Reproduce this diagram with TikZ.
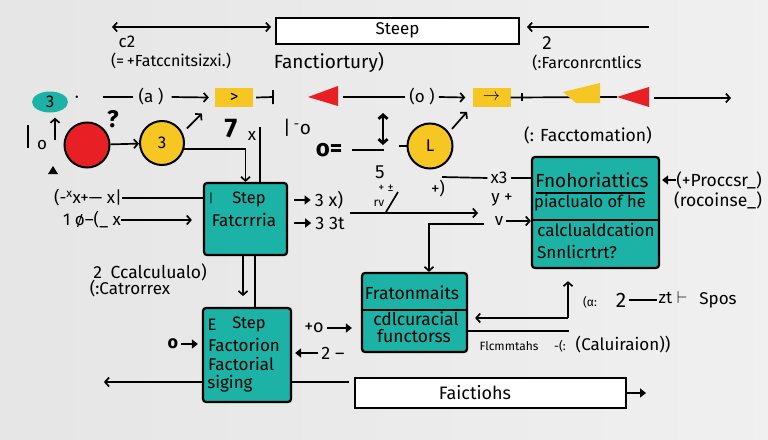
\documentclass[tikz,border=0pt]{standalone}
\usepackage{fontspec}
\setmainfont{Fira Sans}
\usetikzlibrary{positioning}
\usetikzlibrary{shapes.geometric}
\usetikzlibrary{arrows.meta}

\definecolor{tealfill}{RGB}{28,178,166}
\definecolor{redfill}{RGB}{232,32,38}
\definecolor{yellowfill}{RGB}{246,198,34}

\begin{document}
\begin{tikzpicture}[x=1pt,y=-1pt,
    tbox/.style={draw,line width=2.2pt,fill=tealfill,rounded corners=3pt,inner sep=0pt},
    wbox/.style={draw,line width=2pt,fill=white,inner sep=0pt},
    lab/.style={inner sep=0pt,font=\fontsize{17}{19}\selectfont},
    blab/.style={inner sep=0pt,font=\fontsize{16.5}{18}\selectfont},
    slab/.style={inner sep=0pt,font=\fontsize{12}{14}\selectfont},
    biglab/.style={inner sep=0pt,font=\bfseries\fontsize{24}{26}\selectfont},
    wire/.style={line width=1.7pt},
    arr/.style={-{Straight Barb[length=4pt,width=9pt]},line width=1.7pt},
    fat/.style={-{Triangle[length=6pt,width=9pt]},line width=2.8pt}]
    \useasboundingbox (0,0) rectangle (768,439);
    \shade[left color=gray!20,middle color=gray!3,right color=gray!12] (0,0) rectangle (768,439);

    % top strip
    \node[wbox,lab,minimum width=243,minimum height=26] (steep) at (397.5,30.5) {Steep};
    \coordinate (topl) at (112,27);
    \coordinate (topr) at (649,27);
    \draw[wire,{Straight Barb[length=4pt,width=9pt]}-{Straight Barb[length=4pt,width=9pt]},shorten >=4pt] (topl) -- (topl -| steep.west);
    \draw[arr,shorten >=7pt] (topr) -- (topr -| steep.east);
    \node[lab] (ctwo) at (127,42) {c2};
    \node[lab,font=\fontsize{16}{18}\selectfont] (fatcc) at (171,61) {(=\,+Fatccnitsizxi.)};
    \node[lab,font=\fontsize{19}{21}\selectfont] (fanct) at (329,62) {Fanctiortury)};
    \node[lab,font=\fontsize{19}{21}\selectfont] (ntwo) at (547,43) {2};
    \node[lab,font=\fontsize{16}{18}\selectfont] (farcon) at (587,63) {(:Farconrcntlics};

    % row of tokens
    \node[ellipse,fill=tealfill,minimum width=36,minimum height=21,inner sep=0pt,lab] (ell) at (50,102) {3};
    \node[lab] (mdot) at (77,99) {·};
    \coordinate (dasha) at (103,97);
    \node[lab] (pa) at (151,97) {(a )};
    \node[fill=yellowfill,minimum width=38,minimum height=19,inner sep=0pt,lab] (ya) at (234,97.5) {>};
    \draw[wire] (dasha) -- ([xshift=-5]pa.west);
    \draw[arr] ([xshift=8]pa.east) -- ([xshift=-6]ya.west);
    \coordinate (ticka) at (273,97);
    \draw[wire] ([xshift=3]ya.east) -- (ticka) ++(0,-7) -- ++(0,14);
    \fill[redfill] (308,97) -- (338,86) -- (338,106) -- cycle;
    \coordinate (dashb) at (343,97);
    \node[lab] (po) at (422,97) {(o )};
    \node[fill=yellowfill,minimum width=38,minimum height=19,inner sep=0pt,lab] (yb) at (491.5,97.5) {$\rightarrow$};
    \draw[wire] (dashb) -- ([xshift=-4]po.west);
    \draw[arr] ([xshift=4]po.east) -- ([xshift=-7]yb.west);
    \draw[wire] (yb.east) -- (617,97);
    \draw[wire] (522,93) -- (522,101);
    \fill[yellowfill] (563,92) -- (600,83) -- (600,103) -- (576,103) -- cycle;
    \fill[redfill] (617,97) -- (649,87) -- (649,107) -- cycle;
    \coordinate (enda) at (654,98);
    \coordinate (endb) at (731,98);
    \draw[arr] (enda) -- (endb);

    % circles
    \node[circle,draw,line width=2pt,fill=redfill,minimum size=45,inner sep=0pt] (redc) at (87,145) {};
    \node[circle,draw,line width=2pt,fill=yellowfill,minimum size=44,inner sep=0pt,lab] (yelc) at (162,143) {3};
    \node[circle,draw,line width=2pt,fill=yellowfill,minimum size=45,inner sep=0pt,lab] (yell) at (430,146) {L};
    \draw[arr] (redc) -- (yelc);
    \node[biglab] (qmark) at (113,119) {?};
    \draw[wire] (28,125) -- (28,148);
    \node[lab] (lo) at (42,145) {o};
    \coordinate (upo) at (55,140);
    \draw[arr,shorten >=5pt] (upo) -- (upo |- ell.south);
    \fill (48,174) -- (53,166) -- (58,174) -- cycle;
    \draw[arr] (yelc.30) ++(5,-3) -- ++(15,-15);
    \node[biglab,font=\bfseries\fontsize{27}{29}\selectfont] (seven) at (231,129) {7};
    \node[lab] (sx) at (252,136) {x};
    \node[lab,font=\fontsize{19}{21}\selectfont] (baro) at (297,128) {|\,\textsuperscript{-}o};
    \node[biglab] (oeq) at (329,150) {o=};
    \draw[wire] ([xshift=10]oeq.east) -- ++(32,0);
    \draw[wire] ([xshift=-8]yell.west) -- (yell.west);
    \draw[{Straight Barb[length=4pt,width=9pt]}-{Straight Barb[length=4pt,width=9pt]},line width=2.8pt] (383,145) -- (383,113);
    \draw[arr] (yell.40) ++(4,-2) -- ++(15,-17);
    \node[lab,font=\fontsize{17.5}{19}\selectfont] (facct) at (588,135) {(: Facctomation)};

    % first step box
    \node[tbox,minimum width=83,minimum height=72] (stepa) at (245.5,219) {};
    \node[slab] (bara) at (211,198) {|};
    \node[blab] (stepaa) at (249,199) {Step};
    \node[blab,font=\fontsize{17}{19}\selectfont] (stepab) at (244,220) {Fatcrrria};
    \draw[arr] (yelc.-15) -| (stepa.north);
    \draw[wire] ([xshift=14.5]stepa.north) -- ++(0,-55);
    \node[lab] (inx) at (88,198) {(-\textsuperscript{x}x+— x|};
    \node[lab] (iny) at (92,220) {1 ø–(\_ x};
    \draw[wire] (inx.east) -- (inx.east -| stepa.west);
    \draw[arr,shorten >=11pt] (iny.east) -- (iny.east -| stepa.west);
    \node[lab,font=\fontsize{18}{20}\selectfont] (outa) at (329,200) {3 x)};
    \node[lab,font=\fontsize{18}{20}\selectfont] (outb) at (330,223) {3 3t};
    \draw[fat,shorten <=6pt,shorten >=4pt] (outa.west -| stepa.east) -- (outa.west);
    \draw[fat,shorten <=6pt,shorten >=4pt] (outb.west -| stepa.east) -- (outb.west);

    % middle scribbles
    \coordinate (lnga) at (350,213);
    \coordinate (lngb) at (478,213);
    \draw[arr] (lnga) -- (lngb);
    \node[lab,font=\fontsize{19}{21}\selectfont] (five) at (380,172) {5};
    \node[slab] (tpm) at (386,188) {+ ±};
    \node[slab] (rv) at (379,203) {rv};
    \draw[wire] (386,212) -- (398,192);
    \node[lab] (pparen) at (438,189) {+)};
    \coordinate (xa) at (442,177);
    \node[lab] (xthree) at (499,178) {x3};
    \node[lab] (yplus) at (502,200) {y +};
    \node[lab] (vv) at (499,221) {v};

    % right box
    \node[tbox,minimum width=127,minimum height=111] (fnoh) at (595.5,212.5) {};
    \node[blab,font=\fontsize{19}{21}\selectfont] (fna) at (592,180) {Fnohoriattics};
    \draw[wire] ([xshift=5,yshift=19.5]fnoh.west) -- ([xshift=-15,yshift=19.5]fnoh.east);
    \node[blab] (fnb) at (590,203) {piaclualo of he};
    \draw[wire] ([yshift=-7.5]fnoh.west) -- ([yshift=-7.5]fnoh.east);
    \node[blab,font=\fontsize{17}{19}\selectfont] (fnc) at (596,230) {calclualdcation};
    \node[blab,font=\fontsize{17}{19}\selectfont] (fnd) at (577,252) {Snnlicrtrt?};
    \draw[wire] (xa) -- ([xshift=-3]xthree.west);
    \draw[wire] ([xshift=3]xthree.east) -- (xthree.east -| fnoh.west);
    \draw[arr,shorten <=3pt] (vv.east) -- (vv.east -| fnoh.west);
    \node[lab,font=\fontsize{17.5}{19}\selectfont] (procs) at (719,180) {(+Proccsr\_)};
    \node[lab,font=\fontsize{17.5}{19}\selectfont] (rocoin) at (718,200) {(rocoinse\_)};
    \draw[fat,shorten >=2pt] (procs.west) -- (procs.west -| fnoh.east);

    % middle box
    \node[tbox,minimum width=105,minimum height=79] (frat) at (414.5,312.5) {};
    \node[blab,font=\fontsize{17.5}{19}\selectfont] (fra) at (412,293) {Fratonmaits};
    \draw[wire] ([yshift=2.5]frat.west) -- ([yshift=2.5]frat.east);
    \node[blab,font=\fontsize{17.5}{19}\selectfont] (frb) at (416,319) {cdlcuracial};
    \node[blab,font=\fontsize{17.5}{19}\selectfont] (frc) at (414,336) {functorss};
    \coordinate (brk) at (484,224);
    \draw[arr] (brk) -| ([xshift=14.5]frat.north);
    \coordinate (frjoin) at (568,318);
    \draw[arr,shorten >=7pt] (frjoin) -- (frjoin -| frat.east);
    \draw[arr,shorten >=12pt] (frjoin) -- (frjoin |- fnoh.south);
    \draw[wire] ([yshift=-18.5]frat.east) -- ++(101,0);
    \node[slab] (alp) at (590,302) {(α:};
    \node[lab,font=\fontsize{21}{23}\selectfont] (ntwob) at (621,300) {2};
    \draw[wire] (ntwob.east) ++(3,0) -- ++(28,0);
    \node[lab] (zt) at (673,298) {zt $\vdash$};
    \node[lab] (spos) at (718,300) {Spos};
    \node[slab] (flcm) at (509,346) {Flcmmtahs};
    \node[slab] (dashc) at (560,346) {-(:};
    \node[lab,font=\fontsize{17}{19}\selectfont] (calu) at (623,345) {(Caluiraion))};

    % second step box
    \node[tbox,minimum width=88,minimum height=94] (stepb) at (247,355) {};
    \node[blab] (stepbe) at (212,325) {E};
    \node[blab] (stepba) at (249,324) {Step};
    \node[blab,font=\fontsize{17}{19}\selectfont] (stepbb) at (244,345) {Factorion};
    \node[blab,font=\fontsize{17}{19}\selectfont] (stepbc) at (241,364) {Factorial};
    \node[blab,font=\fontsize{17}{19}\selectfont] (stepbd) at (230,384) {siging};
    \draw[arr] ([xshift=-2.5]stepa.south) -- ++(0,40);
    \draw[wire] ([xshift=9.5]stepa.south) -- ([xshift=8]stepb.north);
    \node[lab,font=\fontsize{17.5}{19}\selectfont] (ccal) at (150,272) {2\enspace Ccalculualo)};
    \node[lab] (catr) at (130,289) {(:Catrorrex};
    \node[lab,font=\bfseries\fontsize{18}{20}\selectfont] (zo) at (173,344) {o};
    \draw[fat,shorten <=3pt,shorten >=4pt] (zo.east) -- (zo.east -| stepb.west);
    \node[lab,font=\fontsize{18}{20}\selectfont] (po2) at (314,328) {+o};
    \draw[fat,shorten <=3pt,shorten >=9pt] (po2.east) -- (po2.east -| frat.west);
    \node[lab,font=\fontsize{18}{20}\selectfont] (twom) at (333,353) {2 –};
    \draw[fat,shorten <=3pt,shorten >=3pt] (twom.west) -- (twom.west -| stepb.east);
    \draw[arr] ([yshift=-27]stepb.west) -- ++(-98,0);
    \draw[wire] ([yshift=-27]stepb.east) -- ++(57,0);

    % bottom strip
    \node[wbox,minimum width=271,minimum height=30] (faict) at (490.5,393) {};
    \node[lab,font=\fontsize{18}{20}\selectfont] (faictt) at (475,393) {Faictiohs};
    \draw[fat] (faict.east) -- ++(19,0);
\end{tikzpicture}
\end{document}
